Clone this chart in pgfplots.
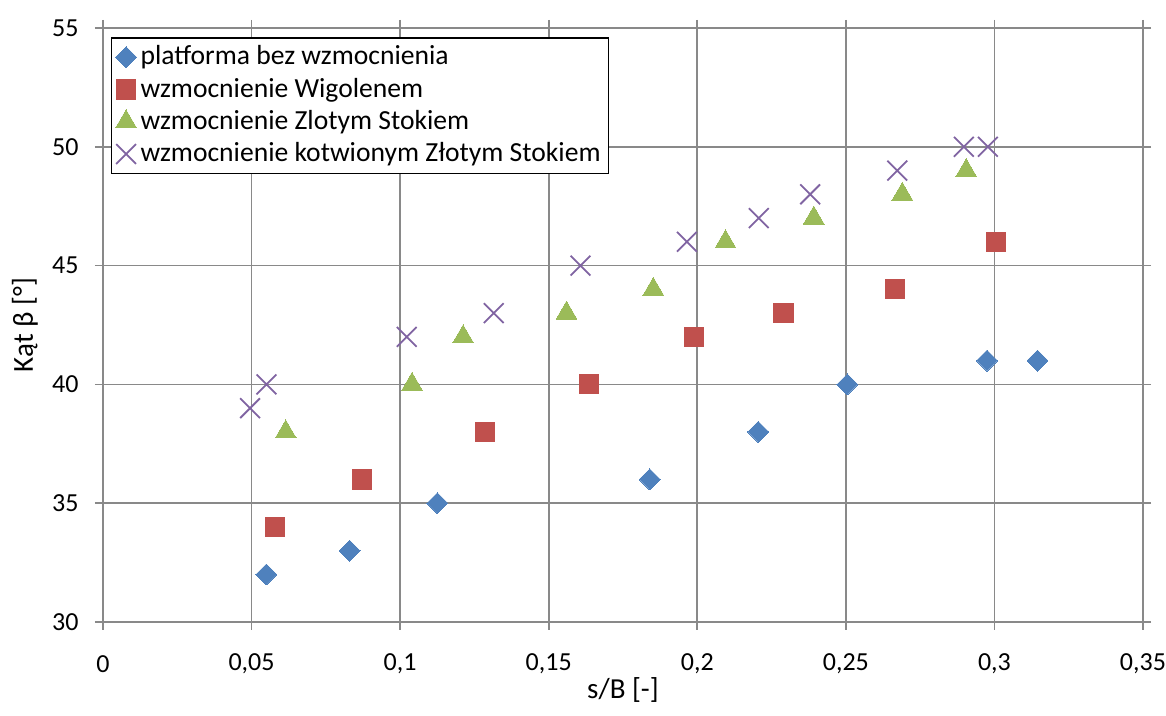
\documentclass[border=0pt]{standalone}
\usepackage{pgfplots}
\pgfplotsset{compat=1.18}
\usepackage{fontspec}
\setmainfont{Carlito}
\definecolor{cblue}{HTML}{4F81BD}
\definecolor{cred}{HTML}{C0504D}
\definecolor{cgreen}{HTML}{9BBB59}
\definecolor{cpurple}{HTML}{8064A2}
\definecolor{cgrid}{HTML}{898989}
\begin{document}
\fontsize{13}{15}\selectfont
\begin{tikzpicture}
\useasboundingbox (-51.5pt,-47pt) rectangle (531.5pt,311pt);
\begin{axis}[
  scale only axis,
  width=520pt, height=297pt,
  xmin=0, xmax=0.35, ymin=30, ymax=55,
  xtick={0,0.05,...,0.35}, ytick={30,35,...,55},
  grid=major,
  grid style={cgrid, line width=0.8pt},
  axis line style={cgrid, line width=0.8pt},
  tick style={cgrid, line width=0.8pt},
  tick align=outside,
  major tick length=4pt,
  font=\fontsize{13}{15}\selectfont,
  /pgf/number format/.cd, use comma, fixed, precision=2, assume math mode=true,
  /pgfplots/.cd,
  xticklabel style={anchor=center, yshift=-17pt, inner sep=0pt},
  yticklabel style={anchor=east, xshift=-8pt, inner sep=0pt},
  xlabel={s/B [-]},
  ylabel={Kąt β [°]},
  xlabel style={at={(axis description cs:0.5,-0.1145)}, anchor=center, font=\fontsize{14.5}{16}\selectfont},
  ylabel style={at={(axis description cs:-0.075,0.5)}, anchor=center, font=\fontsize{14.5}{16}\selectfont},
  legend cell align=left,
  legend style={at={(rel axis cs:0.0075,0.985)}, anchor=north west, draw=black, line width=0.8pt,
    font=\fontsize{13.8}{15}\selectfont, row sep=0.6pt, inner sep=2pt,
    nodes={inner sep=2pt}},
  legend image code/.code={\draw[#1] plot coordinates {(0.35cm,0cm)};},
]
\addplot[only marks, mark=square*, mark size=3.7pt, color=cblue, mark options={line width=0pt, rotate=45}] coordinates {
(0.055,32) (0.083,33) (0.1125,35) (0.184,36) (0.2205,38) (0.2505,40) (0.2975,41) (0.3145,41)};
\addlegendentry{platforma bez wzmocnienia}
\addplot[only marks, mark=square*, mark size=4.8pt, color=cred, mark options={line width=0pt}] coordinates {
(0.058,34) (0.0872,36) (0.1286,38) (0.1635,40) (0.1988,42) (0.229,43) (0.2665,44) (0.3005,46)};
\addlegendentry{wzmocnienie Wigolenem}
\addplot[only marks, mark=triangle*, mark size=6pt, color=cgreen, mark options={line width=0pt}] coordinates {
(0.0615,38) (0.104,40) (0.1212,42) (0.156,43) (0.1852,44) (0.2095,46) (0.2392,47) (0.269,48) (0.2905,49)};
\addlegendentry{wzmocnienie Zlotym Stokiem}
\addplot[only marks, mark=x, mark size=7pt, color=cpurple, mark options={line width=0.9pt}] coordinates {
(0.0495,39) (0.055,40) (0.1022,42) (0.1315,43) (0.1607,45) (0.1965,46) (0.2207,47) (0.238,48) (0.2673,49) (0.2897,50) (0.2978,50)};
\addlegendentry{wzmocnienie kotwionym Złotym Stokiem}
\end{axis}
\end{tikzpicture}
\end{document}
